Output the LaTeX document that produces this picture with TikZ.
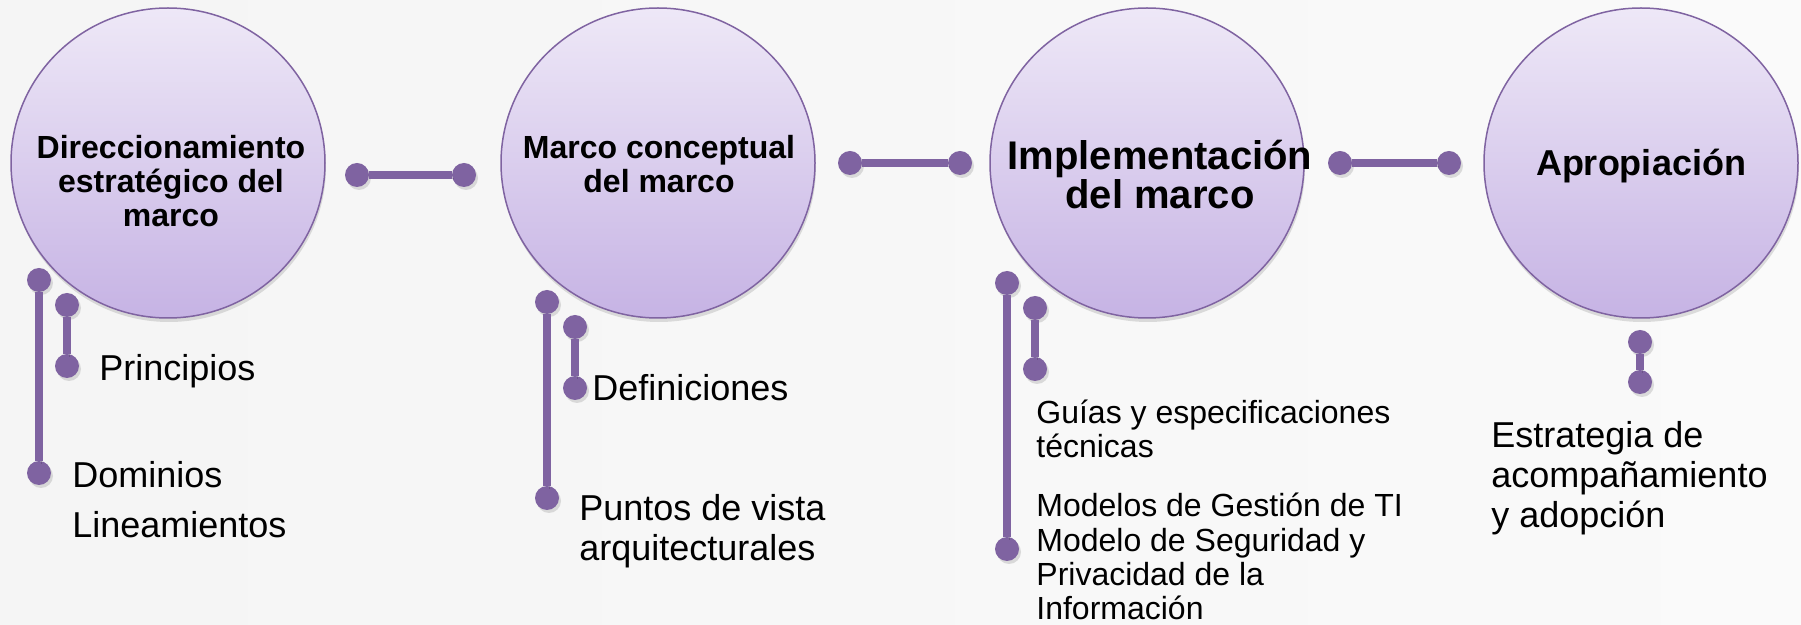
\documentclass[tikz,border=0pt]{standalone}
\usepackage{fontspec}
\setmainfont{Liberation Sans}
\usetikzlibrary{shapes.geometric,shadows}

\definecolor{marcoline}{HTML}{7F63A1}
\definecolor{marcotop}{HTML}{EEE8F7}
\definecolor{marcobot}{HTML}{C6B3E4}

\begin{document}
\begin{tikzpicture}[x=0.5pt, y=-0.5pt,
  % common options for the big circles:
  ball/.style = {ellipse, draw=marcoline, line width=0.75pt, top color=marcotop,
              bottom color=marcobot, minimum width=157pt, minimum height=155pt,
              inner sep=0, drop shadow={shadow xshift=0.5pt, shadow yshift=-2pt, opacity=0.25}},
  % titles inside the circles (base = last line):
  heading/.style = {align=center, anchor=base, inner sep=0,
              font=\bfseries\fontsize{16}{17}\selectfont},
  % common options for the small round ends:
  knob/.style = {circle, fill=marcoline, minimum size=12pt, inner sep=0,
              drop shadow={shadow xshift=1pt, shadow yshift=-1.5pt, opacity=0.25}},
  stem/.style = {marcoline, line width=4.3pt,
              preaction={draw=black, opacity=0.15, transform canvas={xshift=1pt, yshift=-1.5pt}}},
  % texts under the circles (base = last line)
  item/.style = {align=left, anchor=base west, inner sep=0,
              font=\fontsize{18}{20}\selectfont}
  ]

  \shade[left color=black!4, middle color=white, right color=black!2]
    (0,0) rectangle (1801,625);
  \useasboundingbox (0,0) rectangle (1801,625);

  \node[ball] (c1) at (168,163) {};
  \node[ball] (c2) at (658,163) {};
  \node[ball] (c3) at (1147,163) {};
  \node[ball] (c4) at (1641,163) {};

  \node[heading] (t1) at (171,227) {Direccionamiento\\estratégico del\\marco};
  \node[heading] (t2) at (659,193) {Marco conceptual\\del marco};
  \node[heading, font=\bfseries\fontsize{20}{17.2}\selectfont] (t3) at (1160,209)
    {Implementación\\del marco};
  \node[heading, font=\bfseries\fontsize{18}{20}\selectfont] (t4) at (1641,176) {Apropiación};

  % links between the circles
  \node[knob] (h1a) at (357,175) {};
  \node[knob] (h1b) at (464,175) {};
  \node[knob] (h2a) at (850,163) {};
  \node[knob] (h2b) at (960,163) {};
  \node[knob] (h3a) at (1340,163) {};
  \node[knob] (h3b) at (1449,163) {};
  \draw[stem] (h1a) -- (h1b);
  \draw[stem] (h2a) -- (h2b);
  \draw[stem] (h3a) -- (h3b);

  % hanging lines
  \node[knob] (v1a) at (39,280) {};
  \node[knob] (v1b) at (39,473) {};
  \node[knob] (v1c) at (67,305) {};
  \node[knob] (v1d) at (67,366) {};
  \draw[stem] (v1a) -- (v1b);
  \draw[stem] (v1c) -- (v1d);

  \node[knob] (v2a) at (547,302) {};
  \node[knob] (v2b) at (547,498) {};
  \node[knob] (v2c) at (575,327) {};
  \node[knob] (v2d) at (575,388) {};
  \draw[stem] (v2a) -- (v2b);
  \draw[stem] (v2c) -- (v2d);

  \node[knob] (v3a) at (1007,283) {};
  \node[knob] (v3b) at (1007,549) {};
  \node[knob] (v3c) at (1035,308) {};
  \node[knob] (v3d) at (1035,369) {};
  \draw[stem] (v3a) -- (v3b);
  \draw[stem] (v3c) -- (v3d);

  \node[knob] (v4a) at (1640,342) {};
  \node[knob] (v4b) at (1640,382) {};
  \draw[stem] (v4a) -- (v4b);

  % texts
  \node[item] (principios) at (99,381) {Principios};
  \node[item, font=\fontsize{18}{25}\selectfont] (dominios) at (72,538) {Dominios\\Lineamientos};
  \node[item] (definiciones) at (592,401) {Definiciones};
  \node[item] (puntos) at (579,561) {Puntos de vista\\arquitecturales};
  \node[item, font=\fontsize{16}{17}\selectfont] (guias) at (1036,458)
    {Guías y especificaciones\\técnicas};
  \node[item, font=\fontsize{16}{17.2}\selectfont] (modelos) at (1036,620)
    {Modelos de Gestión de TI\\Modelo de Seguridad y\\Privacidad de la\\Información};
  \node[item] (estrategia) at (1491,528) {Estrategia de\\acompañamiento\\y adopción};
\end{tikzpicture}
\end{document}
